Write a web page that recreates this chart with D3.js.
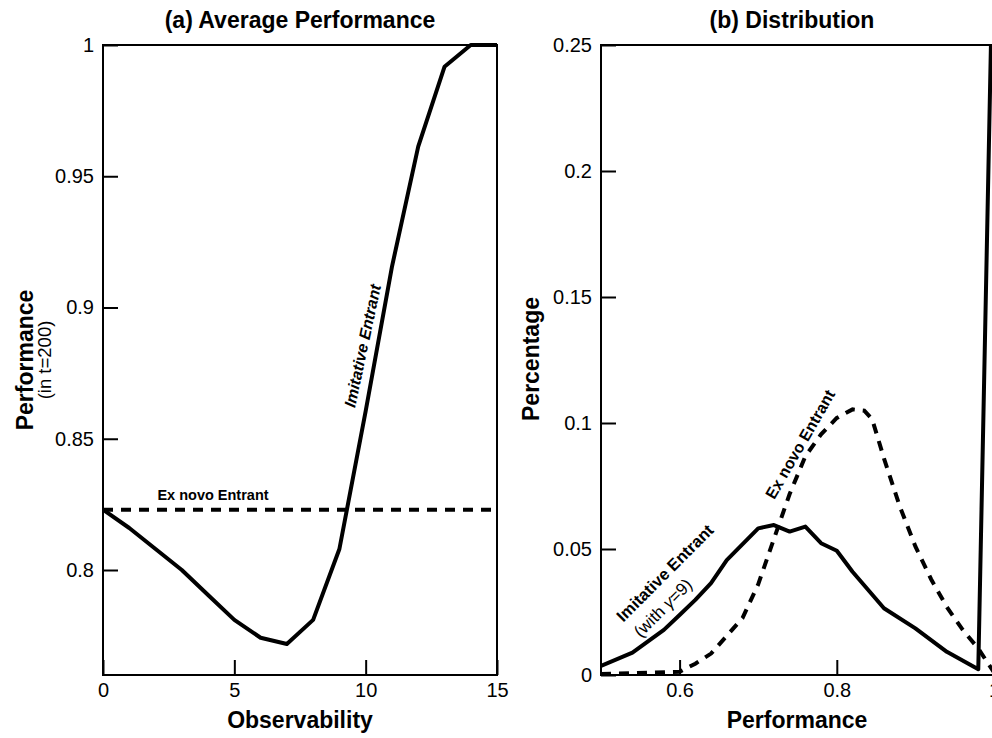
<!DOCTYPE html>
<html>
<head>
<meta charset="utf-8">
<script src="https://cdn.jsdelivr.net/npm/d3@7"></script>
<style>
body { margin: 0; background: #fff; }
svg { display: block; font-family: "Liberation Sans", Arial, Helvetica, sans-serif; }
</style>
</head>
<body>
<svg id="chart" width="992" height="738"></svg>
<script>
// Panel (a): average performance over observability
var observability = [0, 1, 2, 3, 4, 5, 6, 7, 8, 9, 10, 11, 12, 13, 14, 15];
var imitativeAvg = [0.823, 0.816, 0.808, 0.800, 0.7905, 0.781, 0.7742, 0.7718, 0.781, 0.808, 0.8605, 0.9155, 0.9613, 0.9917, 1.0, 1.0];
var exNovoAvg = [0.823, 0.823, 0.823, 0.823, 0.823, 0.823, 0.823, 0.823, 0.823, 0.823, 0.823, 0.823, 0.823, 0.823, 0.823, 0.823];
var avgTicksX = [0, 5, 10, 15];
var avgTicksY = [0.8, 0.85, 0.9, 0.95, 1];

// Panel (b): distribution of performance
var perfImitative = [0.50, 0.54, 0.58, 0.60, 0.62, 0.64, 0.66, 0.70, 0.72, 0.74, 0.76, 0.78, 0.80, 0.82, 0.86, 0.90, 0.94, 0.98, 1.00];
var pctImitative = [0.0036, 0.0089, 0.0179, 0.0238, 0.0298, 0.0365, 0.0456, 0.0582, 0.0595, 0.0569, 0.0589, 0.0523, 0.0493, 0.041, 0.0265, 0.0185, 0.0092, 0.0023, 0.31];
var perfExNovo = [0.50, 0.60, 0.62, 0.64, 0.68, 0.70, 0.72, 0.74, 0.76, 0.78, 0.80, 0.82, 0.835, 0.845, 0.86, 0.88, 0.90, 0.92, 0.94, 0.96, 0.98, 1.00];
var pctExNovo = [0.0004, 0.0013, 0.0045, 0.0085, 0.0226, 0.036, 0.054, 0.0718, 0.0868, 0.0955, 0.102, 0.1054, 0.1049, 0.1015, 0.086, 0.067, 0.051, 0.038, 0.027, 0.018, 0.0105, 0.001];
var distTicksX = [0.6, 0.8, 1];
var distTicksY = [0, 0.05, 0.1, 0.15, 0.2, 0.25];

var svg = d3.select('#chart');
var plotTop = 45, plotBottom = 675;

// Draws axes, frame and titles for one panel
function drawFrame(g, x, y, ticksX, ticksY, opts) {
	var x0 = x.range()[0], x1 = x.range()[1];

	g.append('g')
		.attr('transform', 'translate(0,' + plotBottom + ')')
		.call(d3.axisBottom(x).tickValues(ticksX).tickSize(-15).tickPadding(8)
			.tickFormat(function(d) { return d; }))
		.call(styleAxis);

	g.append('g')
		.attr('transform', 'translate(' + x0 + ',0)')
		.call(d3.axisLeft(y).tickValues(ticksY).tickSize(-15).tickPadding(9)
			.tickFormat(function(d) { return d; }))
		.call(styleAxis);

	g.append('rect')
		.attr('x', x0).attr('y', plotTop)
		.attr('width', x1 - x0).attr('height', plotBottom - plotTop)
		.attr('fill', 'none').attr('stroke', '#000').attr('stroke-width', 2);

	g.append('text')
		.attr('x', opts.titleX).attr('y', 28)
		.attr('text-anchor', 'middle')
		.attr('font-size', 23).attr('font-weight', 'bold')
		.text(opts.title);

	g.append('text')
		.attr('x', opts.xLabelX).attr('y', 728)
		.attr('text-anchor', 'middle')
		.attr('font-size', 23).attr('font-weight', 'bold')
		.text(opts.xLabel);
}

function styleAxis(a) {
	a.select('.domain').remove();
	a.selectAll('.tick line').attr('stroke', '#000').attr('stroke-width', 2);
	a.selectAll('.tick text')
		.attr('font-size', 20)
		.attr('font-family', '"Liberation Sans", Arial, sans-serif')
		.attr('fill', '#000');
}

// ---- Panel (a)
var xa = d3.scaleLinear().domain([0, 15]).range([103, 497]);
var ya = d3.scaleLinear().domain([0.76, 1]).range([plotBottom, plotTop]);
var ga = svg.append('g');

var lineA = d3.line()
	.x(function(d, i) { return xa(observability[i]); })
	.y(function(d) { return ya(d); });

ga.append('path')
	.datum(exNovoAvg)
	.attr('d', lineA)
	.attr('fill', 'none').attr('stroke', '#000')
	.attr('stroke-width', 4).attr('stroke-dasharray', '10,8');

ga.append('path')
	.datum(imitativeAvg)
	.attr('d', lineA)
	.attr('fill', 'none').attr('stroke', '#000')
	.attr('stroke-width', 4).attr('stroke-linejoin', 'round');

drawFrame(ga, xa, ya, avgTicksX, avgTicksY, {
	title: '(a) Average Performance', titleX: 300,
	xLabel: 'Observability', xLabelX: 300
});

// y label with note
ga.append('text')
	.attr('transform', 'translate(33,360) rotate(-90)')
	.attr('text-anchor', 'middle')
	.attr('font-size', 23).attr('font-weight', 'bold')
	.text('Performance');
ga.append('text')
	.attr('transform', 'translate(51,360) rotate(-90)')
	.attr('text-anchor', 'middle')
	.attr('font-size', 18.5)
	.text('(in t=200)');

ga.append('text')
	.attr('x', 213).attr('y', 500)
	.attr('text-anchor', 'middle')
	.attr('font-size', 14.5).attr('font-weight', 'bold')
	.text('Ex novo Entrant');

ga.append('text')
	.attr('transform', 'translate(368,347) rotate(-78)')
	.attr('text-anchor', 'middle')
	.attr('font-size', 16).attr('font-weight', 'bold').attr('font-style', 'italic')
	.text('Imitative Entrant');

// ---- Panel (b)
var xb = d3.scaleLinear().domain([0.5, 1]).range([601, 994]);
var yb = d3.scaleLinear().domain([0, 0.25]).range([plotBottom, plotTop]);
var gb = svg.append('g');

gb.append('clipPath').attr('id', 'clipB')
	.append('rect')
	.attr('x', 601).attr('y', plotTop + 1)
	.attr('width', 393).attr('height', plotBottom - plotTop + 4);

gb.append('path')
	.datum(pctExNovo)
	.attr('clip-path', 'url(#clipB)')
	.attr('d', d3.line()
		.x(function(d, i) { return xb(perfExNovo[i]); })
		.y(function(d) { return yb(d); }))
	.attr('fill', 'none').attr('stroke', '#000')
	.attr('stroke-width', 4).attr('stroke-dasharray', '10,8');

gb.append('path')
	.datum(pctImitative)
	.attr('clip-path', 'url(#clipB)')
	.attr('d', d3.line()
		.x(function(d, i) { return xb(perfImitative[i]); })
		.y(function(d) { return yb(d); }))
	.attr('fill', 'none').attr('stroke', '#000')
	.attr('stroke-width', 4).attr('stroke-linejoin', 'round');

drawFrame(gb, xb, yb, distTicksX, distTicksY, {
	title: '(b) Distribution', titleX: 792,
	xLabel: 'Performance', xLabelX: 797
});

gb.append('text')
	.attr('transform', 'translate(539,359) rotate(-90)')
	.attr('text-anchor', 'middle')
	.attr('font-size', 23).attr('font-weight', 'bold')
	.text('Percentage');

gb.append('text')
	.attr('transform', 'translate(805,447) rotate(-60)')
	.attr('text-anchor', 'middle')
	.attr('font-size', 16).attr('font-weight', 'bold')
	.text('Ex novo Entrant');

gb.append('text')
	.attr('transform', 'translate(669,577) rotate(-45)')
	.attr('text-anchor', 'middle')
	.attr('font-size', 16.5).attr('font-weight', 'bold')
	.text('Imitative Entrant');

var note = gb.append('text')
	.attr('transform', 'translate(667,612) rotate(-45)')
	.attr('text-anchor', 'middle')
	.attr('font-size', 17);
note.append('tspan').text('(with ');
note.append('tspan').attr('font-style', 'italic').text('\u03b3');
note.append('tspan').text('=9)');
</script>
</body>
</html>
